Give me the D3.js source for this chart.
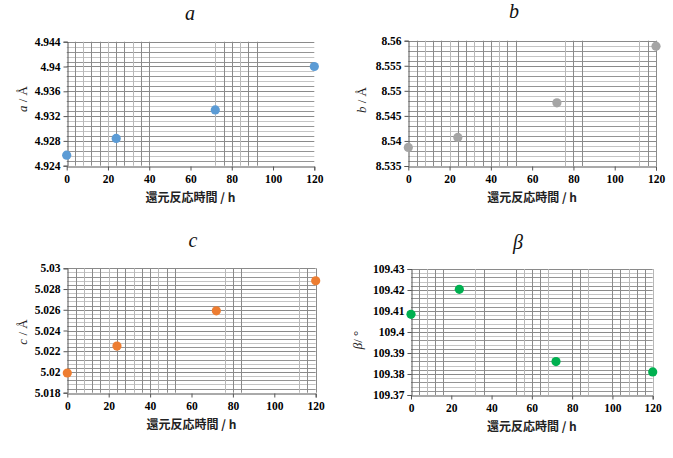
<!DOCTYPE html>
<html>
<head>
<meta charset="utf-8">
<script src="https://cdn.jsdelivr.net/npm/d3@7"></script>
<style>
  body { margin: 0; background: #fff; }
  .xlabel { font-family: "Noto Sans CJK JP", sans-serif; font-weight: bold; font-size: 12px; fill: #222; }
  .ylabel { font-family: "Liberation Serif", serif; font-size: 13px; fill: #222; }
  .title { font-family: "Liberation Serif", serif; font-style: italic; font-size: 20px; fill: #111; }
</style>
</head>
<body>
<svg id="chart" width="673" height="458"></svg>
<script>
// reaction time (h)
const hours = [0, 24, 72, 120];
const xTicks = [0, 20, 40, 60, 80, 100, 120];

// lattice parameters
const aValues = [4.9257, 4.9284, 4.9330, 4.9400];
const bValues = [8.5387, 8.5407, 8.5476, 8.5589];
const cValues = [5.0199, 5.0225, 5.0259, 5.0288];
const betaValues = [109.4084, 109.4203, 109.3859, 109.3810];

const aTicks = [4.924, 4.928, 4.932, 4.936, 4.94, 4.944];
const bTicks = [8.535, 8.54, 8.545, 8.55, 8.555, 8.56];
const cTicks = [5.018, 5.02, 5.022, 5.024, 5.026, 5.028, 5.03];
const betaTicks = [109.37, 109.38, 109.39, 109.4, 109.41, 109.42, 109.43];

// vertical grid lines that show up in each panel
const aVGrid = [4, 8, 12, 16, 20, 24, 28, 32, 36, 40, 72, 76, 80, 84, 88, 92];
const bVGrid = [4, 8, 12, 16, 20, 24, 28, 32, 36, 40, 44, 48, 52, 76, 80, 84, 112, 116, 120];
const cVGrid = [4, 8, 12, 16, 20, 24, 28, 32, 36, 40, 44, 48, 52, 76, 80, 84, 112, 116, 120];
const betaVGrid = [4, 8, 12, 16, 32, 36, 52, 56, 60, 64, 68, 80, 84, 88, 100, 104, 108, 112, 116, 120];

const svg = d3.select("#chart");

function drawPanel(p) {
  const x = d3.scaleLinear().domain([0, 120]).range([p.left, p.right]);
  const y = d3.scaleLinear().domain([p.ticks[0], p.ticks[p.ticks.length - 1]]).range([p.bottom, p.top]);
  const g = svg.append("g");

  // horizontal minor lines, 5 per major step
  const step = p.ticks[1] - p.ticks[0];
  const minor = [];
  for (let i = 0; i < p.ticks.length - 1; i++) {
    for (let k = 1; k < 5; k++) minor.push(p.ticks[i] + step * k / 5);
  }
  g.selectAll(".hmin").data(minor).enter().append("line")
    .attr("x1", p.left).attr("x2", p.right)
    .attr("y1", d => Math.round(y(d)) + 0.5).attr("y2", d => Math.round(y(d)) + 0.5)
    .attr("stroke", (d, i) => i % 2 ? "#c4c4c4" : "#949494").attr("stroke-width", 1);

  g.selectAll(".hmaj").data(p.ticks.slice(1)).enter().append("line")
    .attr("x1", p.left).attr("x2", p.right)
    .attr("y1", d => Math.round(y(d)) + 0.5).attr("y2", d => Math.round(y(d)) + 0.5)
    .attr("stroke", "#8a8a8a").attr("stroke-width", 1);

  g.selectAll(".vg").data(p.vgrid).enter().append("line")
    .attr("x1", d => Math.round(x(d)) + 0.5).attr("x2", d => Math.round(x(d)) + 0.5)
    .attr("y1", p.top).attr("y2", p.bottom)
    .attr("stroke", (d, i) => i % 3 === 1 ? "#b8b8b8" : "#8a8a8a").attr("stroke-width", 1);

  // axes
  const yAxis = g.append("g")
    .attr("transform", `translate(${Math.round(p.left) + 0.5},0)`)
    .call(d3.axisLeft(y).tickValues(p.ticks).tickSize(4).tickPadding(3)
      .tickFormat(d => String(+d.toFixed(4))));
  const xAxis = g.append("g")
    .attr("transform", `translate(0,${Math.round(p.bottom) + 0.5})`)
    .call(d3.axisBottom(x).tickValues(xTicks).tickSize(4).tickPadding(4));
  [yAxis, xAxis].forEach(a => {
    a.attr("font-family", "Liberation Serif, serif").attr("font-size", 11.5).attr("font-weight", "bold");
    a.select(".domain").attr("stroke", "#555");
    a.selectAll(".tick line").attr("stroke", "#555");
    a.selectAll(".tick text").attr("fill", "#000")
      .style("font-family", "'Liberation Serif', serif").style("font-weight", "bold");
  });
  xAxis.selectAll(".tick line").filter(d => d === 0).remove();

  // points
  g.selectAll("circle").data(p.values).enter().append("circle")
    .attr("cx", (d, i) => x(hours[i]))
    .attr("cy", d => y(d))
    .attr("r", 4.6)
    .attr("fill", p.color);

  // labels
  g.append("text").attr("class", "title")
    .attr("x", p.titleX).attr("y", p.titleY).attr("text-anchor", "middle").text(p.title);

  g.append("text").attr("class", "xlabel")
    .attr("x", (p.left + p.right) / 2).attr("y", p.bottom + 36)
    .attr("text-anchor", "middle").text("還元反応時間 / h");

  const yl = g.append("text").attr("class", "ylabel")
    .attr("transform", `translate(${p.ylabelX},${p.ylabelY}) rotate(-90)`)
    .attr("text-anchor", "middle");
  yl.append("tspan").attr("font-style", "italic").text(p.symbol);
  yl.append("tspan").text(p.unit);
}

drawPanel({ left: 66.7, right: 314.3, top: 41.7, bottom: 165.7, ticks: aTicks, values: aValues,
  vgrid: aVGrid, color: "#5b9bd5", title: "a", titleX: 190, titleY: 20,
  symbol: "a", unit: " / Å", ylabelX: 27, ylabelY: 99 });
drawPanel({ left: 408.3, right: 656, top: 40.7, bottom: 166, ticks: bTicks, values: bValues,
  vgrid: bVGrid, color: "#a5a5a5", title: "b", titleX: 514, titleY: 18,
  symbol: "b", unit: " / Å", ylabelX: 366, ylabelY: 100 });
drawPanel({ left: 67.3, right: 315.7, top: 268.3, bottom: 392.7, ticks: cTicks, values: cValues,
  vgrid: cVGrid, color: "#ed7d31", title: "c", titleX: 193, titleY: 247,
  symbol: "c", unit: " / Å", ylabelX: 27, ylabelY: 332 });
drawPanel({ left: 411, right: 652.7, top: 269, bottom: 395, ticks: betaTicks, values: betaValues,
  vgrid: betaVGrid, color: "#00b050", title: "β", titleX: 518, titleY: 249,
  symbol: "β", unit: "/ °", ylabelX: 362, ylabelY: 340 });
</script>
</body>
</html>
